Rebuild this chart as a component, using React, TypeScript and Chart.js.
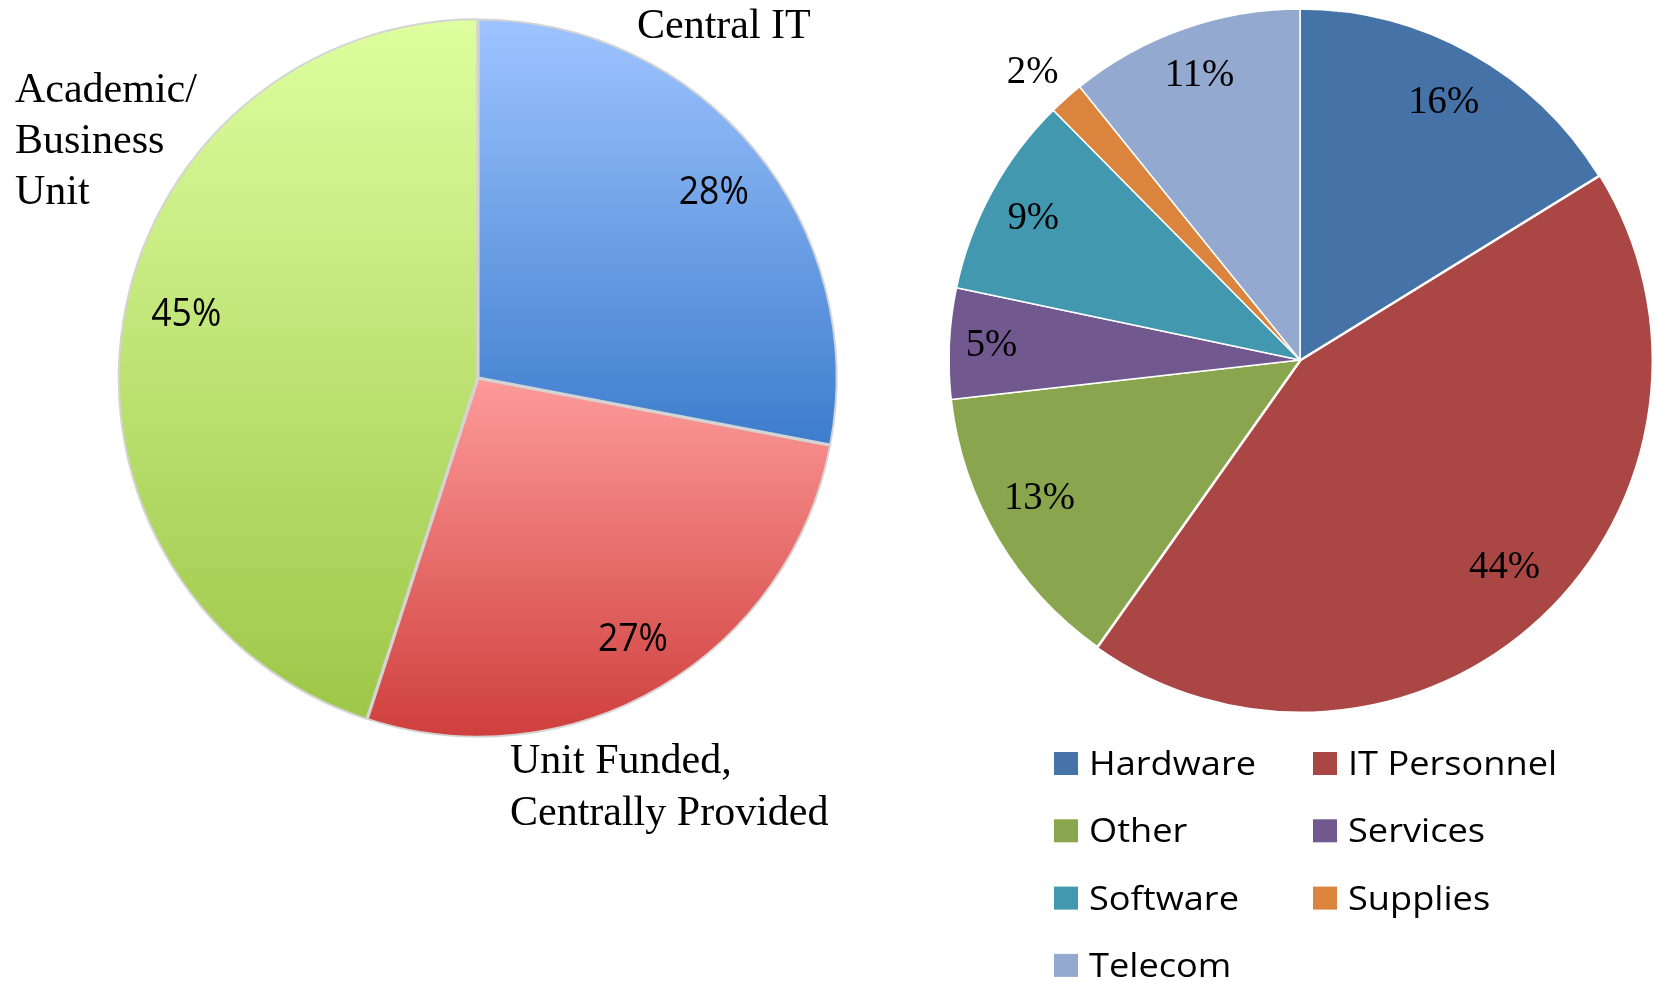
import React, { useEffect, useRef } from "react";
import { Chart, registerables } from "chart.js";

Chart.register(...registerables);

// ---------- data ----------
const fundingCategories = ["Central IT", "Unit Funded, Centrally Provided", "Academic/Business Unit"];
const fundingValues = [28, 27, 45];
const fundingLabels = ["28%", "27%", "45%"];

const spendCategories = ["Hardware", "IT Personnel", "Other", "Services", "Software", "Supplies", "Telecom"];
const spendValues = [16.2, 43.6, 13.4, 5.1, 9.3, 1.6, 10.8];
const spendLabels = ["16%", "44%", "13%", "5%", "9%", "2%", "11%"];

// ---------- styles ----------
const fundingTop = ["#9ec4ff", "#fd9b99", "#defe9f"];
const fundingBottom = ["#3d7dcd", "#cf3f3d", "#9dc748"];
const fundingLabelRadius = [0.837, 0.85, 0.834];
const fundingLabelNudge = [1.5, 0, 3.3];
const spendColors = ["#4572a7", "#aa4643", "#89a54e", "#71588f", "#4198af", "#db843d", "#93a9cf"];
const spendOffsets = [0, 4, 0, 0, 0, 0, 0];
const spendLabelRadius = [0.84, 0.83, 0.84, 0.88, 0.86, 1.12, 0.86];
const spendLabelNudge = [0, -1.4, 2.7, 0, -0.7, -1.1, 0];

const LEFT_R = 358;
const RIGHT_R = 351;
const SERIF = '"Liberation Serif", "Times New Roman", serif';
const SANS = '"Open Sans", "Noto Sans", sans-serif';
const DEG = Math.PI / 180;

function drawScaled(ctx: CanvasRenderingContext2D, text: string, x: number, y: number, sx: number, align: CanvasTextAlign, baseline: CanvasTextBaseline) {
  ctx.save();
  ctx.translate(x, y);
  ctx.scale(sx, 1);
  ctx.textAlign = align;
  ctx.textBaseline = baseline;
  ctx.fillText(text, 0, 0);
  ctx.restore();
}

function sliceGradient(c: any) {
  const chart = c.chart;
  const area = chart.chartArea;
  const i = c.dataIndex;
  if (!area || i === undefined) return fundingBottom[i ?? 0];
  const cx = (area.left + area.right) / 2;
  const cy = (area.top + area.bottom) / 2;
  const data: number[] = c.dataset.data;
  const total = data.reduce((a, b) => a + b, 0);
  let before = 0;
  for (let k = 0; k < i; k++) before += data[k];
  const a0 = -Math.PI / 2 + (before / total) * Math.PI * 2;
  const a1 = a0 + (data[i] / total) * Math.PI * 2;
  let minY = cy, maxY = cy;
  for (let s = 0; s <= 100; s++) {
    const a = a0 + ((a1 - a0) * s) / 100;
    const y = cy + Math.sin(a) * LEFT_R;
    minY = Math.min(minY, y);
    maxY = Math.max(maxY, y);
  }
  const g = chart.ctx.createLinearGradient(0, minY, 0, maxY);
  g.addColorStop(0, fundingTop[i]);
  g.addColorStop(1, fundingBottom[i]);
  return g;
}

const leftLabelsPlugin = {
  id: "leftLabels",
  afterDatasetsDraw(chart: any) {
    const ctx: CanvasRenderingContext2D = chart.ctx;
    const arcs = chart.getDatasetMeta(0).data;
    ctx.save();
    ctx.fillStyle = "#000";
    ctx.font = `39px ${SANS}`;
    const sx = 70 / ctx.measureText("28%").width;
    let cx = 0, cy = 0;
    arcs.forEach((arc: any, i: number) => {
      const p = arc.getProps(["x", "y", "startAngle", "endAngle", "outerRadius"], true);
      cx = p.x; cy = p.y;
      const mid = (p.startAngle + p.endAngle) / 2 + fundingLabelNudge[i] * DEG;
      const r = p.outerRadius * fundingLabelRadius[i];
      drawScaled(ctx, fundingLabels[i], p.x + Math.cos(mid) * r, p.y + Math.sin(mid) * r, sx, "center", "middle");
    });
    ctx.font = `42px ${SERIF}`;
    ctx.textAlign = "left";
    ctx.textBaseline = "alphabetic";
    ctx.fillText("Central IT", cx + 159, cy - 340);
    ctx.fillText("Academic/", cx - 463, cy - 276);
    ctx.fillText("Business", cx - 463, cy - 225);
    ctx.fillText("Unit", cx - 463, cy - 174);
    ctx.fillText("Unit Funded,", cx + 32, cy + 395);
    ctx.fillText("Centrally Provided", cx + 32, cy + 447);
    ctx.restore();
  },
};

const rightLabelsPlugin = {
  id: "rightLabels",
  afterDatasetsDraw(chart: any) {
    const ctx: CanvasRenderingContext2D = chart.ctx;
    const arcs = chart.getDatasetMeta(0).data;
    ctx.save();
    ctx.fillStyle = "#000";
    ctx.font = `41px ${SERIF}`;
    const sx = 71 / ctx.measureText("16%").width;
    let cx = 0, cy = 0;
    arcs.forEach((arc: any, i: number) => {
      const p = arc.getProps(["x", "y", "startAngle", "endAngle", "outerRadius"], true);
      cx = p.x; cy = p.y;
      const mid = (p.startAngle + p.endAngle) / 2 + spendLabelNudge[i] * DEG;
      const r = p.outerRadius * spendLabelRadius[i];
      drawScaled(ctx, spendLabels[i], p.x + Math.cos(mid) * r, p.y + Math.sin(mid) * r, sx, "center", "middle");
    });
    // legend
    ctx.font = `32px ${SANS}`;
    const lsx = 167 / ctx.measureText("Hardware").width;
    const colX = [cx - 246, cx + 13];
    const rowTop = cy + 392;
    const rowStep = 67.3;
    spendCategories.forEach((name, i) => {
      const col = i % 2;
      const row = Math.floor(i / 2);
      const x = colX[col];
      const top = rowTop + row * rowStep;
      ctx.fillStyle = spendColors[i];
      ctx.fillRect(x, top, 24, 23);
      ctx.fillStyle = "#000";
      drawScaled(ctx, name, x + 35, top + 23, lsx, "left", "alphabetic");
    });
    ctx.restore();
  },
};

function FundingPie() {
  const ref = useRef<HTMLCanvasElement | null>(null);
  useEffect(() => {
    if (!ref.current) return;
    const chart = new Chart(ref.current, {
      type: "pie",
      data: {
        labels: fundingCategories,
        datasets: [
          {
            data: fundingValues,
            backgroundColor: sliceGradient as any,
            borderColor: "#d4d4d4",
            borderWidth: 2,
            offset: 3,
          },
        ],
      },
      options: {
        responsive: false,
        animation: false,
        devicePixelRatio: 1,
        events: [],
        radius: LEFT_R,
        layout: { padding: { left: 0, right: 0, top: 0, bottom: 104 } },
        plugins: { legend: { display: false }, tooltip: { enabled: false } },
      } as any,
      plugins: [leftLabelsPlugin],
    });
    return () => chart.destroy();
  }, []);
  return <canvas ref={ref} width={956} height={860} style={{ position: "absolute", left: 0, top: 0, width: 956, height: 860 }} />;
}

function SpendPie() {
  const ref = useRef<HTMLCanvasElement | null>(null);
  useEffect(() => {
    if (!ref.current) return;
    const chart = new Chart(ref.current, {
      type: "pie",
      data: {
        labels: spendCategories,
        datasets: [
          {
            data: spendValues,
            backgroundColor: spendColors,
            borderColor: "#ffffff",
            borderWidth: 1.5,
            offset: spendOffsets,
          },
        ],
      },
      options: {
        responsive: false,
        animation: false,
        devicePixelRatio: 1,
        events: [],
        radius: RIGHT_R,
        layout: { padding: { left: 0, right: 10, top: 0, bottom: 261 } },
        plugins: { legend: { display: false }, tooltip: { enabled: false } },
      } as any,
      plugins: [rightLabelsPlugin],
    });
    return () => chart.destroy();
  }, []);
  return <canvas ref={ref} width={710} height={981} style={{ position: "absolute", left: 950, top: 0, width: 710, height: 981 }} />;
}

export default function App() {
  return (
    <div style={{ position: "absolute", left: 0, top: 0, width: 1660, height: 981, background: "#fff", overflow: "hidden" }}>
      <FundingPie />
      <SpendPie />
    </div>
  );
}
